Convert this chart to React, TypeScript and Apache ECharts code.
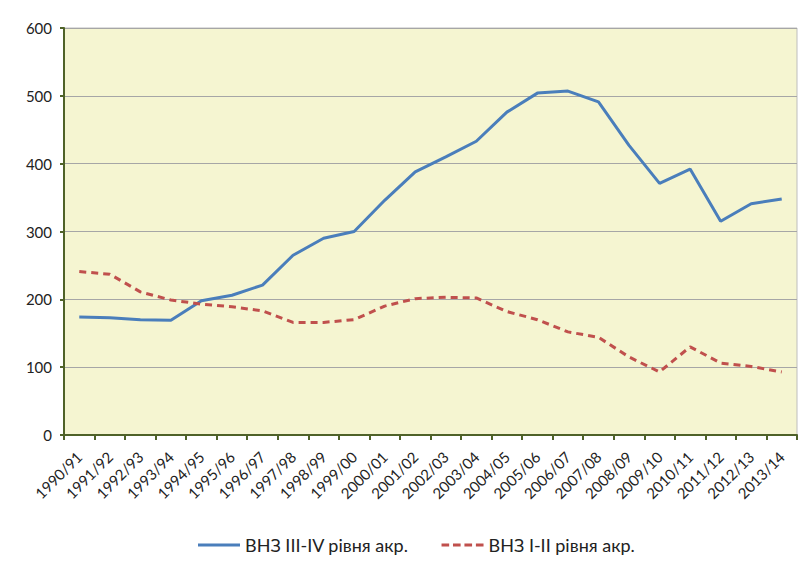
import React, { useEffect, useRef } from "react";
import * as echarts from "echarts";

const categories = [
  "1990/91", "1991/92", "1992/93", "1993/94", "1994/95", "1995/96", "1996/97", "1997/98",
  "1998/99", "1999/00", "2000/01", "2001/02", "2002/03", "2003/04", "2004/05", "2005/06",
  "2006/07", "2007/08", "2008/09", "2009/10", "2010/11", "2011/12", "2012/13", "2013/14",
];
const seriesIIIIV = [174, 173, 170, 169, 198, 206, 221, 265, 290, 300, 346, 388, 410, 433, 476, 504, 507, 491, 427, 371, 392, 315, 341, 348];
const seriesIII = [241, 237, 211, 199, 193, 189, 183, 166, 166, 170, 190, 201, 203, 202, 182, 170, 152, 144, 115, 93, 130, 106, 101, 93];
const nameA = "ВНЗ III-IV рівня акр.";
const nameB = "ВНЗ I-II рівня акр.";
const yTicks = [0, 100, 200, 300, 400, 500, 600];

const FONT = "Lato, 'Open Sans', sans-serif";

export default function App() {
  const ref = useRef<HTMLDivElement>(null);
  useEffect(() => {
    if (!ref.current) return;
    const chart = echarts.init(ref.current, null, { renderer: "svg" });
    chart.setOption({
      animation: false,
      backgroundColor: "#ffffff",
      textStyle: { fontFamily: FONT },
      grid: {
        left: 64,
        right: 4,
        top: 28,
        bottom: 132,
        show: true,
        backgroundColor: "#F5F5D1",
        borderColor: "#BDBDBD",
        borderWidth: 1,
      },
      legend: {
        top: 531,
        left: 193,
        itemWidth: 42,
        itemHeight: 4,
        itemGap: 33,
        textStyle: { fontSize: 18, color: "#222", fontFamily: FONT },
        data: [
          { name: nameA, icon: "path://M0,0 L42,0 L42,3 L0,3 Z" },
          { name: nameB, icon: "path://M0,0 L8,0 L8,3 L0,3 Z M12,0 L20,0 L20,3 L12,3 Z M24,0 L32,0 L32,3 L24,3 Z M36,0 L44,0 L44,3 L36,3 Z" },
        ],
      },
      xAxis: {
        type: "category",
        data: categories,
        boundaryGap: true,
        axisLine: { lineStyle: { color: "#4F6228", width: 2 } },
        axisTick: { show: true, alignWithLabel: false, length: 5, lineStyle: { color: "#4F6228", width: 2 } },
        axisLabel: {
          rotate: 45,
          interval: 0,
          fontSize: 15,
          color: "#222",
          fontFamily: FONT,
          margin: 19,
        },
        splitLine: { show: false },
      },
      yAxis: {
        type: "value",
        min: yTicks[0],
        max: yTicks[yTicks.length - 1],
        interval: 100,
        axisLine: { show: true, lineStyle: { color: "#4F6228", width: 2 } },
        axisTick: { show: true, length: 4, lineStyle: { color: "#4F6228", width: 2 } },
        axisLabel: { fontSize: 15, color: "#222", fontFamily: FONT, margin: 12 },
        splitLine: { show: true, lineStyle: { color: "#A6A6A6", width: 1 } },
      },
      series: [
        {
          name: nameA,
          type: "line",
          data: seriesIIIIV,
          symbol: "none",
          lineStyle: { color: "#4A7EBB", width: 3 },
          itemStyle: { color: "#4A7EBB" },
        },
        {
          name: nameB,
          type: "line",
          data: seriesIII,
          symbol: "none",
          lineStyle: { color: "#C0504D", width: 3, type: [7, 5] },
          itemStyle: { color: "#C0504D" },
        },
      ],
    });
    return () => chart.dispose();
  }, []);
  return <div ref={ref} style={{ width: 801, height: 567, position: "absolute", left: 0, top: 0 }} />;
}
